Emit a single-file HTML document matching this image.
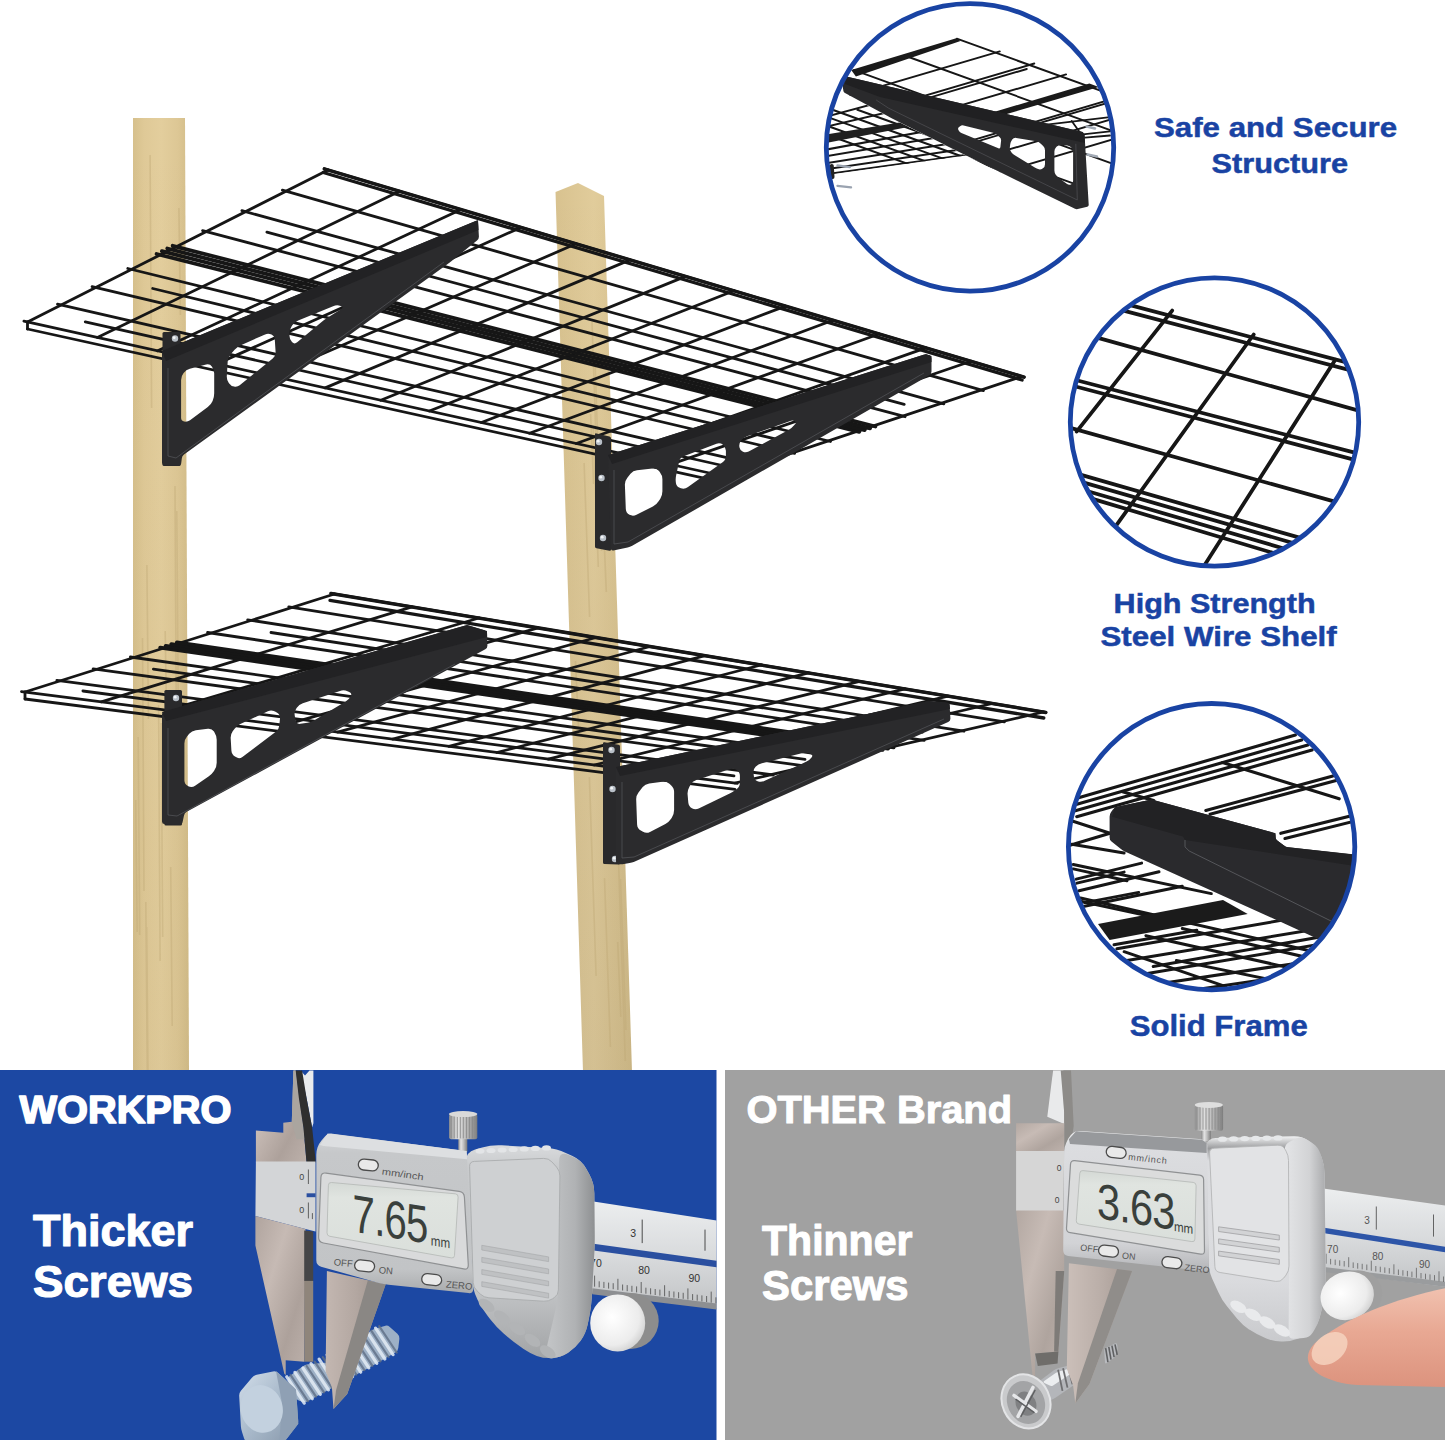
<!DOCTYPE html><html><head><meta charset="utf-8"><title>Shelf</title><style>html,body{margin:0;padding:0;background:#fff}svg{display:block}text{font-family:"Liberation Sans",sans-serif}</style></head><body><svg width="1445" height="1440" viewBox="0 0 1445 1440">
<defs>
<linearGradient id="wood1" x1="0" x2="1" y1="0" y2="0">
<stop offset="0" stop-color="#d6c08c"/><stop offset="0.2" stop-color="#dfc997"/><stop offset="0.5" stop-color="#e3ce9d"/><stop offset="0.8" stop-color="#ddc795"/><stop offset="1" stop-color="#d3bd89"/>
</linearGradient>
<linearGradient id="wood2" x1="0" x2="1" y1="0" y2="0">
<stop offset="0" stop-color="#d8c28f"/><stop offset="0.5" stop-color="#e1cc9b"/><stop offset="1" stop-color="#d5bf8b"/>
</linearGradient>
<linearGradient id="shade1" x1="0" x2="0" y1="0" y2="1">
<stop offset="0" stop-color="#6b5a30" stop-opacity="0"/><stop offset="1" stop-color="#6b5a30" stop-opacity="0.05"/>
</linearGradient>
<linearGradient id="shade2" x1="0" x2="0" y1="0" y2="1">
<stop offset="0" stop-color="#4c4438" stop-opacity="0"/><stop offset="1" stop-color="#4c4438" stop-opacity="0.09"/>
</linearGradient>
<clipPath id="c1"><circle cx="970" cy="147.4" r="143.7"/></clipPath><clipPath id="c1low"><path d="M810.0 84.9 L843.7 92.6 L889.8 117.5 L944.6 145.0 L1000.0 172.4 L969.5 154.9 L833.7 174.0 L810.0 177.1 Z"/></clipPath><clipPath id="c1up"><path d="M821.3 66.7 L843.7 92.4 L1076.3 209.4 L1090.0 206.3 L1157.6 139.6 L1157.6 -17.4 L821.3 -17.4 Z"/></clipPath><clipPath id="c2"><circle cx="1214.5" cy="422" r="144.2"/></clipPath><clipPath id="c3"><circle cx="1211.6" cy="846.7" r="143.2"/></clipPath>
<linearGradient id="steelH" x1="0" x2="1" y1="0" y2="1"><stop offset="0" stop-color="#b0a49e"/><stop offset="0.35" stop-color="#c6bab4"/><stop offset="0.7" stop-color="#ada19b"/><stop offset="1" stop-color="#bdb1ab"/></linearGradient>
<linearGradient id="steelH2" x1="0" x2="1" y1="0" y2="0"><stop offset="0" stop-color="#c3b7b1"/><stop offset="0.5" stop-color="#b3a7a1"/><stop offset="1" stop-color="#9d918b"/></linearGradient>
<linearGradient id="bodyV" x1="0" x2="0" y1="0" y2="1"><stop offset="0" stop-color="#d6d8da"/><stop offset="0.12" stop-color="#c6c8ca"/><stop offset="0.85" stop-color="#c2c4c6"/><stop offset="1" stop-color="#a9abad"/></linearGradient>
<linearGradient id="gripV" x1="0" x2="0" y1="0" y2="1"><stop offset="0" stop-color="#d9dbdd"/><stop offset="0.1" stop-color="#c9cbcd"/><stop offset="0.7" stop-color="#c0c2c4"/><stop offset="1" stop-color="#a2a4a6"/></linearGradient>
<linearGradient id="gripSide" x1="0" x2="1" y1="0" y2="0"><stop offset="0" stop-color="#c4c6c8"/><stop offset="0.6" stop-color="#b0b2b4"/><stop offset="1" stop-color="#8e9092"/></linearGradient>
<linearGradient id="beamV" x1="0" x2="0" y1="0" y2="1"><stop offset="0" stop-color="#eceeef"/><stop offset="0.5" stop-color="#d9dbdd"/><stop offset="1" stop-color="#c2c4c6"/></linearGradient>
<linearGradient id="knobH" x1="0" x2="1" y1="0" y2="0"><stop offset="0" stop-color="#8f8f8f"/><stop offset="0.3" stop-color="#e4e4e4"/><stop offset="0.6" stop-color="#bdbdbd"/><stop offset="1" stop-color="#7d7d7d"/></linearGradient>
<radialGradient id="wheel" cx="0.4" cy="0.4" r="0.7"><stop offset="0" stop-color="#ffffff"/><stop offset="0.7" stop-color="#ececec"/><stop offset="1" stop-color="#c9c9c9"/></radialGradient>
<linearGradient id="lcd" x1="0" x2="0" y1="0" y2="1"><stop offset="0" stop-color="#d4d9d5"/><stop offset="0.2" stop-color="#e0e4e0"/><stop offset="1" stop-color="#dadfdb"/></linearGradient>
<linearGradient id="boltH" x1="0" x2="1" y1="0" y2="1"><stop offset="0" stop-color="#d3deea"/><stop offset="0.5" stop-color="#a9bacb"/><stop offset="1" stop-color="#8797aa"/></linearGradient>
<linearGradient id="bodyV2" x1="0" x2="0" y1="0" y2="1"><stop offset="0" stop-color="#eeeff0"/><stop offset="0.1" stop-color="#dcdde0"/><stop offset="0.8" stop-color="#d2d3d6"/><stop offset="1" stop-color="#b4b5b8"/></linearGradient>
<linearGradient id="gripV2" x1="0" x2="0" y1="0" y2="1"><stop offset="0" stop-color="#f2f3f4"/><stop offset="0.06" stop-color="#9a9b9d"/><stop offset="0.12" stop-color="#dcdde0"/><stop offset="0.7" stop-color="#dadbde"/><stop offset="1" stop-color="#c9cacd"/></linearGradient>
<linearGradient id="gripSide2" x1="0" x2="1" y1="0" y2="0"><stop offset="0" stop-color="#e4e5e7"/><stop offset="0.6" stop-color="#d2d3d5"/><stop offset="1" stop-color="#a9aaac"/></linearGradient>
<linearGradient id="steelR" x1="0" x2="1" y1="0" y2="1"><stop offset="0" stop-color="#b3a8a2"/><stop offset="0.35" stop-color="#c7bbb5"/><stop offset="0.7" stop-color="#afa49e"/><stop offset="1" stop-color="#beb2ac"/></linearGradient>
<linearGradient id="steelR2" x1="0" x2="1" y1="0" y2="0"><stop offset="0" stop-color="#cbbfb9"/><stop offset="0.5" stop-color="#bbafa9"/><stop offset="1" stop-color="#a59993"/></linearGradient>
<linearGradient id="skin" x1="0" x2="0" y1="0" y2="1"><stop offset="0" stop-color="#f1c2b0"/><stop offset="0.45" stop-color="#e8a893"/><stop offset="1" stop-color="#dc937e"/></linearGradient>
</defs>
<rect width="1445" height="1440" fill="#fff"/>
<polygon points="133.0,118.0 185.0,118.0 189.0,1072.0 133.0,1072.0" fill="url(#wood1)"/>
<polygon points="133.0,118.0 185.0,118.0 189.0,1072.0 133.0,1072.0" fill="url(#shade1)"/>
<polygon points="555.5,192.0 578.0,183.0 604.0,196.0 632.0,1072.0 583.0,1072.0" fill="url(#wood2)"/>
<polygon points="555.5,192.0 578.0,183.0 604.0,196.0 632.0,1072.0 583.0,1072.0" fill="url(#shade2)"/>
<g stroke="#bfa875" stroke-width="1.6" opacity="0.4"><line x1="146.9" y1="565" x2="148.4" y2="719"/><line x1="165.2" y1="631" x2="166.7" y2="724"/><line x1="135.7" y1="800" x2="137.2" y2="932"/><line x1="146.7" y1="927" x2="148.2" y2="1101"/><line x1="176.8" y1="511" x2="178.3" y2="719"/><line x1="142.5" y1="638" x2="144.0" y2="891"/><line x1="161.2" y1="723" x2="162.7" y2="937"/><line x1="138.2" y1="737" x2="139.7" y2="935"/><line x1="150.1" y1="155" x2="151.6" y2="408"/><line x1="158.6" y1="705" x2="160.1" y2="961"/><line x1="170.7" y1="867" x2="172.2" y2="1026"/><line x1="175.0" y1="486" x2="176.5" y2="753"/><line x1="178.9" y1="208" x2="180.4" y2="315"/><line x1="145.8" y1="902" x2="147.3" y2="1070"/><line x1="593.2" y1="426" x2="598.3" y2="567"/><line x1="584.1" y1="463" x2="589.6" y2="617"/><line x1="604.5" y1="878" x2="610.4" y2="1047"/><line x1="617.9" y1="842" x2="625.3" y2="1061"/><line x1="592.0" y1="322" x2="598.8" y2="520"/><line x1="620.5" y1="879" x2="625.9" y2="1030"/><line x1="594.9" y1="358" x2="601.5" y2="551"/><line x1="590.6" y1="414" x2="593.6" y2="484"/><line x1="617.7" y1="942" x2="620.8" y2="1017"/><line x1="602.8" y1="508" x2="606.3" y2="592"/><line x1="589.4" y1="777" x2="596.1" y2="976"/><line x1="575.5" y1="661" x2="578.5" y2="728"/></g>
<g stroke="#161616" stroke-width="2.8" stroke-linecap="round" fill="none"><line x1="27.5" y1="322.0" x2="328.0" y2="170.0"/><line x1="97.4" y1="337.5" x2="399.6" y2="191.3"/><line x1="157.7" y1="350.8" x2="461.0" y2="209.6"/><line x1="216.9" y1="363.9" x2="521.0" y2="227.4"/><line x1="271.4" y1="376.0" x2="576.0" y2="243.8"/><line x1="325.2" y1="387.9" x2="630.0" y2="259.9"/><line x1="380.8" y1="400.2" x2="685.6" y2="276.4"/><line x1="429.4" y1="411.0" x2="734.0" y2="290.8"/><line x1="481.4" y1="422.5" x2="785.5" y2="306.1"/><line x1="529.5" y1="433.2" x2="833.0" y2="320.3"/><line x1="576.3" y1="443.5" x2="879.0" y2="334.0"/><line x1="624.3" y1="454.2" x2="926.0" y2="347.9"/><line x1="670.5" y1="464.4" x2="971.0" y2="361.3"/><line x1="723.0" y1="476.0" x2="1022.0" y2="376.5"/><line x1="23.9" y1="321.2" x2="725.2" y2="476.5"/><line x1="85.3" y1="321.8" x2="722.4" y2="465.5"/><line x1="57.5" y1="304.2" x2="759.5" y2="465.1"/><line x1="92.1" y1="286.6" x2="794.6" y2="453.4"/><line x1="152.7" y1="288.5" x2="790.5" y2="442.6"/><line x1="127.8" y1="268.5" x2="830.5" y2="441.5"/><line x1="156.6" y1="254.0" x2="859.3" y2="431.9" stroke-width="3.8"/><line x1="161.9" y1="251.2" x2="864.7" y2="430.1" stroke-width="3.8"/><line x1="167.3" y1="248.5" x2="870.1" y2="428.3" stroke-width="3.8"/><line x1="172.7" y1="245.8" x2="875.4" y2="426.5" stroke-width="3.8"/><line x1="202.6" y1="230.6" x2="905.1" y2="416.7"/><line x1="241.9" y1="210.7" x2="943.8" y2="403.8"/><line x1="266.9" y1="232.2" x2="904.2" y2="404.4"/><line x1="282.4" y1="190.2" x2="983.4" y2="390.6"/><line x1="324.3" y1="168.9" x2="1024.1" y2="377.1"/><line x1="323.3" y1="172.5" x2="1022.1" y2="380.0" stroke-width="3.3"/><line x1="324.3" y1="168.9" x2="1024.1" y2="377.1" stroke-width="3.5"/><line x1="27.5" y1="329.0" x2="723.0" y2="482.3"/><line x1="27.5" y1="322.0" x2="27.5" y2="329.0"/></g>
<path d="M162.5 333.5 Q162.5 332.0 164.0 332.0 L179.0 332.0 Q180.5 332.0 180.5 333.5 L180.5 464.5 Q180.5 466.0 179.0 466.0 L164.0 466.0 Q162.5 466.0 162.5 464.5 Z" fill="#29292b"/><circle cx="175" cy="338.5" r="3.2" fill="#b9c0c8"/><circle cx="174.2" cy="337.7" r="1.4" fill="#f2f4f6"/><circle cx="176.5" cy="459.5" r="3.2" fill="#b9c0c8"/><circle cx="175.7" cy="458.7" r="1.4" fill="#f2f4f6"/><path d="M162.0 353.5 Q162.0 351.0 164.3 350.0 L475.7 221.0 Q478.0 220.0 478.1 222.5 L478.9 236.5 Q479.0 239.0 477.0 240.6 L451.0 261.4 Q449.0 263.0 447.0 264.5 L184.0 454.5 Q182.0 456.0 181.8 458.5 L181.2 463.5 Q181.0 466.0 178.5 465.9 L164.5 465.1 Q162.0 465.0 162.0 462.5 Z M181.1 380.0 Q181.1 376.0 183.6 372.9 L183.6 372.9 Q186.0 369.8 189.8 368.8 L206.1 364.6 Q209.8 363.6 212.0 366.7 L212.0 366.7 Q214.2 369.8 214.2 373.6 L214.2 393.2 Q214.2 397.2 212.6 400.9 L212.6 401.0 Q211.0 404.7 207.8 407.1 L190.0 420.2 Q187.4 422.1 184.2 421.5 L184.2 421.5 Q181.1 420.9 181.1 417.7 Z M227.7 361.4 Q227.9 357.4 230.5 354.4 L234.6 349.8 Q237.2 346.8 240.9 345.2 L265.1 334.4 Q268.3 333.0 271.5 334.6 L271.5 334.6 Q274.6 336.2 274.8 339.7 L275.6 352.0 Q275.8 356.0 272.7 358.5 L239.7 385.3 Q237.2 387.3 234.1 386.6 L234.1 386.6 Q231.0 386.0 229.2 383.4 L228.8 382.9 Q226.6 379.8 226.8 376.0 Z M289.5 333.6 Q289.5 329.6 291.7 326.3 L292.3 325.3 Q294.5 322.0 298.2 320.5 L333.1 306.2 Q336.8 304.7 340.6 305.9 L340.6 305.9 Q344.3 307.2 341.0 309.3 L327.8 317.6 Q324.4 319.7 321.3 322.3 L297.2 342.3 Q294.5 344.6 292.0 342.1 L292.0 342.1 Q289.5 339.6 289.5 336.1 Z" fill="#2b2b2d" fill-rule="evenodd"/><path d="M162.0 351.0 L478.0 220.0 L478.5 230.0 L166.0 361.0 Z" fill="#222224"/><path d="M168.0 368.0 L168.0 456.0 L176.0 458.0 L444.0 262.0" fill="none" stroke="#55565a" stroke-width="0.9" opacity="0.8"/>
<path d="M595.0 434.5 Q595.0 433.0 596.5 433.4 L609.5 436.6 Q611.0 437.0 611.0 438.5 L611.0 549.5 Q611.0 551.0 609.5 550.7 L596.5 548.3 Q595.0 548.0 595.0 546.5 Z" fill="#29292b"/><circle cx="599" cy="442" r="3.2" fill="#b9c0c8"/><circle cx="598.2" cy="441.2" r="1.4" fill="#f2f4f6"/><circle cx="601.5" cy="478" r="3.2" fill="#b9c0c8"/><circle cx="600.7" cy="477.2" r="1.4" fill="#f2f4f6"/><circle cx="603" cy="538" r="3.2" fill="#b9c0c8"/><circle cx="602.2" cy="537.2" r="1.4" fill="#f2f4f6"/><path d="M608.1 457.5 Q608.0 455.0 610.4 454.2 L923.6 354.8 Q926.0 354.0 928.3 354.9 L929.2 355.1 Q931.5 356.0 931.5 358.5 L931.5 371.5 Q931.5 374.0 929.3 375.2 L632.2 545.8 Q630.0 547.0 627.6 547.5 L613.4 550.5 Q611.0 551.0 610.9 548.5 Z M624.9 485.0 Q624.7 481.0 627.2 477.9 L630.5 473.7 Q633.0 470.6 637.0 470.2 L652.5 468.4 Q656.5 468.0 659.0 471.1 L659.9 472.2 Q662.4 475.3 662.4 479.3 L662.4 491.3 Q662.4 495.3 660.3 498.7 L658.6 501.3 Q656.5 504.7 652.9 506.5 L636.5 514.7 Q633.0 516.5 629.5 514.8 L629.5 514.8 Q626.0 513.0 625.8 509.1 Z M675.9 482.8 Q675.3 478.8 676.2 474.9 L679.1 461.5 Q680.0 457.6 683.7 456.2 L716.5 443.7 Q720.0 442.4 723.0 444.7 L723.0 444.7 Q725.9 447.0 725.9 450.7 L725.9 456.0 Q725.9 460.0 722.6 462.3 L688.0 487.1 Q684.7 489.4 680.9 488.3 L680.3 488.1 Q676.5 487.0 675.9 483.0 Z M739.4 447.1 Q738.8 443.5 741.0 440.7 L741.1 440.6 Q743.5 437.6 747.1 436.3 L791.0 420.7 Q793.0 420.0 794.8 421.2 L794.8 421.2 Q796.5 422.4 795.2 424.0 L794.1 425.3 Q791.8 428.2 788.5 430.0 L748.7 451.5 Q745.9 453.0 743.0 451.8 L743.0 451.8 Q740.0 450.6 739.5 447.5 Z" fill="#2b2b2d" fill-rule="evenodd"/><path d="M608.0 455.0 L926.0 354.0 L931.5 356.0 L931.5 362.0 L612.0 464.0 Z" fill="#222224"/><path d="M614.0 470.0 L614.0 544.0 L628.0 542.0 L924.0 373.0" fill="none" stroke="#55565a" stroke-width="0.9" opacity="0.8"/>
<g stroke="#161616" stroke-width="2.8" stroke-linecap="round" fill="none"><line x1="25.0" y1="692.0" x2="334.5" y2="594.0"/><line x1="101.3" y1="701.8" x2="412.0" y2="606.9"/><line x1="167.5" y1="710.3" x2="479.0" y2="618.0"/><line x1="226.0" y1="717.8" x2="538.0" y2="627.9"/><line x1="283.7" y1="725.2" x2="596.0" y2="637.5"/><line x1="337.6" y1="732.1" x2="650.0" y2="646.5"/><line x1="392.7" y1="739.1" x2="705.0" y2="655.7"/><line x1="448.9" y1="746.3" x2="761.0" y2="665.0"/><line x1="496.8" y1="752.5" x2="808.6" y2="672.9"/><line x1="548.2" y1="759.1" x2="859.6" y2="681.4"/><line x1="594.2" y1="765.0" x2="905.0" y2="688.9"/><line x1="637.8" y1="770.5" x2="948.0" y2="696.1"/><line x1="682.9" y1="776.3" x2="992.4" y2="703.5"/><line x1="735.0" y1="783.0" x2="1043.5" y2="712.0"/><line x1="21.5" y1="691.6" x2="737.3" y2="783.3"/><line x1="82.9" y1="691.0" x2="734.0" y2="775.9"/><line x1="56.9" y1="680.3" x2="773.2" y2="775.0"/><line x1="93.2" y1="668.8" x2="809.8" y2="766.6"/><line x1="153.4" y1="669.1" x2="805.0" y2="759.4"/><line x1="130.4" y1="657.0" x2="847.2" y2="758.0"/><line x1="160.2" y1="647.6" x2="877.0" y2="751.2" stroke-width="3.8"/><line x1="165.7" y1="645.8" x2="882.5" y2="749.9" stroke-width="3.8"/><line x1="171.3" y1="644.1" x2="888.1" y2="748.6" stroke-width="3.8"/><line x1="176.9" y1="642.3" x2="893.6" y2="747.4" stroke-width="3.8"/><line x1="207.6" y1="632.5" x2="924.2" y2="740.3"/><line x1="247.7" y1="619.8" x2="963.9" y2="731.2"/><line x1="271.0" y1="632.5" x2="922.2" y2="732.2"/><line x1="288.8" y1="606.8" x2="1004.4" y2="721.9"/><line x1="331.0" y1="593.4" x2="1045.8" y2="712.4"/><line x1="330.0" y1="600.4" x2="1043.8" y2="718.0" stroke-width="3.3"/><line x1="331.0" y1="593.4" x2="1045.8" y2="712.4" stroke-width="3.5"/><line x1="25.0" y1="699.0" x2="735.0" y2="789.3"/><line x1="25.0" y1="692.0" x2="25.0" y2="699.0"/></g>
<path d="M164.4 691.5 Q164.4 690.0 165.9 690.0 L180.5 690.0 Q182.0 690.0 182.0 691.5 L182.0 824.0 Q182.0 825.5 180.5 825.5 L165.9 825.5 Q164.4 825.5 164.4 824.0 Z" fill="#29292b"/><circle cx="176" cy="698" r="3.2" fill="#b9c0c8"/><circle cx="175.2" cy="697.2" r="1.4" fill="#f2f4f6"/><circle cx="177" cy="820" r="3.2" fill="#b9c0c8"/><circle cx="176.2" cy="819.2" r="1.4" fill="#f2f4f6"/><path d="M162.0 714.5 Q162.0 712.0 164.4 711.3 L464.6 625.7 Q467.0 625.0 469.4 625.7 L484.6 630.3 Q487.0 631.0 487.1 633.5 L487.4 645.5 Q487.5 648.0 485.3 649.2 L186.7 811.8 Q184.5 813.0 184.0 815.4 L182.5 822.6 Q182.0 825.0 179.5 824.9 L164.5 824.1 Q162.0 824.0 162.0 821.5 Z M184.4 743.4 Q184.4 739.4 187.0 736.4 L189.2 733.7 Q191.8 730.7 195.8 730.2 L207.8 728.7 Q211.8 728.2 214.0 731.5 L214.5 732.4 Q216.7 735.7 216.7 739.7 L216.7 762.8 Q216.7 766.8 214.5 770.1 L214.0 771.0 Q211.8 774.3 208.5 776.6 L195.1 785.7 Q191.8 788.0 188.2 786.2 L188.0 786.0 Q184.4 784.2 184.4 780.2 Z M230.7 738.4 Q230.4 734.4 232.7 731.2 L234.4 728.9 Q236.7 725.7 240.3 724.0 L267.9 711.2 Q271.5 709.5 275.0 711.5 L276.8 712.5 Q280.3 714.5 280.0 718.5 L279.3 725.4 Q279.0 729.4 275.8 731.8 L242.4 756.9 Q239.2 759.3 235.9 757.1 L235.0 756.6 Q231.7 754.4 231.4 750.4 Z M294.8 715.9 Q294.0 712.0 296.2 708.7 L296.8 707.8 Q299.0 704.5 302.8 703.2 L340.0 690.9 Q343.8 689.6 347.5 691.2 L349.2 691.9 Q352.5 693.3 350.6 696.4 L350.7 696.4 Q348.8 699.5 345.7 701.4 L314.8 719.9 Q311.4 722.0 307.5 722.7 L300.4 723.8 Q296.5 724.5 295.7 720.6 Z" fill="#2b2b2d" fill-rule="evenodd"/><path d="M162.0 712.0 L467.0 625.0 L487.0 631.0 L487.0 637.0 L166.0 721.0 Z" fill="#222224"/><path d="M168.0 728.0 L168.0 815.0 L177.0 816.0 L455.0 664.0" fill="none" stroke="#55565a" stroke-width="0.9" opacity="0.8"/>
<path d="M603.0 743.5 Q603.0 742.0 604.5 742.3 L618.5 744.7 Q620.0 745.0 620.0 746.5 L620.0 863.0 Q620.0 864.5 618.5 864.5 L604.5 864.0 Q603.0 864.0 603.0 862.5 Z" fill="#29292b"/><circle cx="611.5" cy="750" r="3.2" fill="#b9c0c8"/><circle cx="610.7" cy="749.2" r="1.4" fill="#f2f4f6"/><circle cx="612.5" cy="789" r="3.2" fill="#b9c0c8"/><circle cx="611.7" cy="788.2" r="1.4" fill="#f2f4f6"/><circle cx="615" cy="859" r="3.2" fill="#b9c0c8"/><circle cx="614.2" cy="858.2" r="1.4" fill="#f2f4f6"/><path d="M616.0 769.5 Q616.0 767.0 618.4 766.5 L926.6 701.5 Q929.0 701.0 931.5 701.2 L947.0 702.8 Q949.5 703.0 949.6 705.5 L950.4 718.5 Q950.5 721.0 948.2 722.0 L634.3 861.7 Q632.0 862.7 629.5 863.1 L624.0 864.1 Q621.5 864.5 619.0 864.3 L618.5 864.2 Q616.0 864.0 616.0 861.5 Z M636.2 799.7 Q636.0 795.7 638.5 792.5 L642.7 787.1 Q645.2 783.9 649.2 783.4 L662.3 781.7 Q666.3 781.2 669.4 783.8 L671.0 785.2 Q674.1 787.8 674.1 791.8 L674.1 810.1 Q674.1 814.1 671.9 817.4 L671.1 818.7 Q668.9 822.0 665.4 823.9 L650.0 831.9 Q646.5 833.8 643.0 831.8 L640.8 830.6 Q637.3 828.6 637.1 824.6 Z M687.6 794.4 Q687.3 790.4 689.3 786.9 L690.5 784.7 Q692.5 781.2 696.3 780.0 L729.7 769.3 Q733.3 768.1 736.6 770.0 L736.6 770.0 Q739.9 772.0 739.9 775.8 L739.9 782.5 Q739.9 786.5 736.8 789.0 L736.4 789.3 Q733.3 791.8 729.7 793.5 L698.7 808.5 Q695.2 810.2 691.9 808.2 L691.9 808.2 Q688.6 806.2 688.3 802.4 Z M753.5 773.1 Q753.0 769.4 755.6 766.8 L755.6 766.8 Q758.3 764.1 761.9 763.2 L801.7 753.3 Q805.6 752.3 809.4 753.6 L810.4 753.9 Q813.5 755.0 811.6 757.6 L811.5 757.6 Q809.6 760.2 806.6 761.6 L764.2 781.0 Q761.0 782.5 757.6 781.2 L757.6 781.2 Q754.3 780.0 753.9 776.5 Z" fill="#2b2b2d" fill-rule="evenodd"/><path d="M616.0 767.0 L929.0 701.0 L949.5 703.0 L950.0 709.0 L620.0 776.0 Z" fill="#222224"/><path d="M622.0 782.0 L622.0 858.0 L634.0 857.0 L944.0 719.0" fill="none" stroke="#55565a" stroke-width="0.9" opacity="0.8"/>
<g clip-path="url(#c1)"><g clip-path="url(#c1low)"><g stroke="#161616" stroke-width="2.0" stroke-linecap="round" fill="none"><line x1="825.0" y1="117.1" x2="994.4" y2="71.3"/><line x1="825.0" y1="126.9" x2="994.4" y2="87.1"/><line x1="825.0" y1="149.8" x2="994.4" y2="118.4"/><line x1="825.0" y1="156.5" x2="994.4" y2="127.8"/><line x1="825.0" y1="163.4" x2="994.4" y2="136.6"/><line x1="825.0" y1="169.5" x2="994.4" y2="144.6"/><line x1="825.0" y1="174.5" x2="994.4" y2="151.1"/><line x1="757.7" y1="109.8" x2="932.1" y2="172.6"/><line x1="782.6" y1="109.8" x2="957.0" y2="172.6"/><line x1="807.5" y1="109.8" x2="981.9" y2="172.6"/><line x1="832.5" y1="109.8" x2="1006.8" y2="172.6"/><line x1="857.4" y1="109.8" x2="1031.8" y2="172.6"/><line x1="882.3" y1="109.8" x2="1056.7" y2="172.6"/><line x1="907.2" y1="109.8" x2="1081.6" y2="172.6"/><line x1="932.1" y1="109.8" x2="1106.5" y2="172.6"/></g><path d="M825.0 134.7 L914.7 120.0 L919.7 124.8 L825.0 143.2 Z" fill="#1f1f1f"/></g><g stroke="#9aa3b0" stroke-width="2.2" stroke-linecap="round" fill="none"><line x1="837.4" y1="165.3" x2="849.9" y2="167.1"/><line x1="837.4" y1="185.8" x2="851.1" y2="187.3"/></g><g stroke="#222" stroke-width="4" stroke-linecap="round" fill="none"><line x1="831.8" y1="165.9" x2="832.5" y2="177.1"/></g><g clip-path="url(#c1up)"><g stroke="#161616" stroke-width="1.9" stroke-linecap="round" fill="none"><line x1="999.8" y1="51.4" x2="733.5" y2="129.9"/><line x1="1034.3" y1="63.5" x2="768.1" y2="142.0"/><line x1="1066.1" y1="74.4" x2="799.8" y2="152.8"/><line x1="1124.9" y1="95.3" x2="858.7" y2="173.8"/><line x1="1154.8" y1="106.5" x2="888.6" y2="185.0"/><line x1="1186.6" y1="117.7" x2="920.3" y2="196.2"/><line x1="1026.8" y1="69.0" x2="802.6" y2="135.1"/><line x1="1116.5" y1="100.3" x2="892.3" y2="166.5"/><line x1="956.8" y1="38.7" x2="1237.0" y2="140.1"/><line x1="904.5" y1="55.5" x2="1184.7" y2="157.0"/><line x1="854.0" y1="70.1" x2="1134.3" y2="171.5"/><line x1="802.6" y1="85.4" x2="1082.9" y2="186.9"/></g><path d="M1089.4 83.5 L1098.8 86.9 L970.8 124.6 L961.4 121.8 Z" fill="#1a1a1a"/><path d="M956.2 38.3 L960.5 40.9 L855.9 76.4 L851.2 70.1 Z" fill="#1a1a1a"/></g><g stroke="#161616" stroke-width="1.8" stroke-linecap="round" fill="none"><line x1="1038.1" y1="125.6" x2="1110.0" y2="117.2"/><line x1="1082.9" y1="134.3" x2="1110.0" y2="131.4"/><line x1="1084.8" y1="137.7" x2="1110.0" y2="135.5"/><line x1="1071.7" y1="120.9" x2="1081.0" y2="134.0"/></g><g stroke="#a3abb6" stroke-width="2.6" stroke-linecap="round" fill="none"><line x1="1086.6" y1="126.5" x2="1095.0" y2="128.4"/><line x1="1087.6" y1="154.5" x2="1096.9" y2="156.4"/></g><path d="M845.0 93.1 Q843.7 92.4 843.4 90.9 L842.9 87.5 Q842.6 86.0 842.7 84.5 L842.9 81.0 Q843.0 79.5 844.1 78.4 L844.9 77.6 Q846.0 76.5 847.5 76.8 L1081.4 131.7 Q1082.9 132.0 1083.6 133.3 L1083.9 134.1 Q1084.6 135.4 1084.7 136.9 L1088.7 204.8 Q1088.8 206.3 1087.3 206.7 L1077.8 209.0 Q1076.3 209.4 1075.0 208.7 L1001.3 172.8 Q1000.0 172.1 998.7 171.4 L945.9 145.4 Q944.6 144.7 943.3 144.0 L891.1 118.0 Q889.8 117.3 888.5 116.6 Z M1054.4 151.5 Q1054.4 149.0 1056.1 147.2 L1056.8 146.6 Q1058.5 144.8 1061.0 145.0 L1067.5 145.6 Q1070.0 145.8 1071.5 147.8 L1071.6 148.0 Q1073.1 150.0 1073.1 152.5 L1073.1 181.0 Q1073.1 183.3 1071.0 184.4 L1071.0 184.4 Q1069.0 185.4 1067.1 184.0 L1059.5 178.6 Q1057.5 177.1 1056.0 175.1 L1055.9 174.9 Q1054.4 172.9 1054.4 170.4 Z M1010.3 144.1 Q1010.6 141.7 1012.1 139.7 L1012.2 139.5 Q1013.8 137.5 1016.2 137.9 L1036.3 141.3 Q1038.8 141.7 1040.5 143.4 L1043.2 146.1 Q1045.0 147.9 1045.0 150.4 L1045.0 164.2 Q1045.0 166.7 1043.0 168.2 L1042.6 168.5 Q1040.8 169.8 1038.8 169.3 L1038.8 169.3 Q1036.7 168.8 1034.8 167.6 L1013.6 154.4 Q1011.7 153.1 1010.6 151.0 L1010.6 151.0 Q1009.6 149.0 1009.9 146.7 Z M958.4 129.9 Q957.5 128.1 959.1 126.9 L960.1 126.2 Q961.7 125.0 963.6 125.5 L993.1 132.8 Q995.0 133.3 996.5 134.6 L999.7 137.3 Q1001.2 138.5 1001.1 140.5 L1000.4 147.0 Q1000.2 149.0 998.4 148.2 L961.4 133.1 Q959.6 132.3 958.7 130.5 Z" fill="#2a2a2c" fill-rule="evenodd"/><path d="M846.0 76.5 L1082.9 132.0 L1084.6 135.4 L1085.0 143.0 L880.0 97.0 L845.0 84.0 Z" fill="#202022"/><path d="M876.2 100.0 L888.8 108.3 L1077.3 200.0 L1075.8 143.8" fill="none" stroke="#4c4d50" stroke-width="0.8"/></g><circle cx="970" cy="147.4" r="143.7" fill="none" stroke="#1943a3" stroke-width="4.8"/>
<g clip-path="url(#c2)"><g stroke="#161616" stroke-width="3.8" stroke-linecap="round" fill="none"><line x1="1172.2" y1="310.6" x2="1076.6" y2="431.6"/><line x1="1253.7" y1="334.5" x2="1115.9" y2="525.8"/><line x1="1335.3" y1="359.8" x2="1204.5" y2="565.2"/><line x1="1416.9" y1="383.7" x2="1293.1" y2="577.8"/><line x1="1093.4" y1="285.3" x2="1040.0" y2="352.8"/></g><g stroke="#161616" stroke-width="3.8" stroke-linecap="round" fill="none"><line x1="1124.4" y1="303.6" x2="1355.0" y2="364.6"/><line x1="1121.6" y1="310.1" x2="1353.6" y2="371.1"/><line x1="1096.2" y1="337.3" x2="1363.4" y2="411.9"/><line x1="1073.7" y1="379.5" x2="1366.2" y2="455.7"/><line x1="1073.7" y1="386.0" x2="1364.8" y2="462.5"/><line x1="1068.1" y1="427.3" x2="1343.7" y2="504.1"/><line x1="1079.4" y1="474.3" x2="1310.0" y2="540.7"/><line x1="1082.2" y1="482.2" x2="1304.4" y2="546.3"/><line x1="1087.8" y1="491.2" x2="1297.3" y2="552.5"/><line x1="1093.4" y1="499.1" x2="1290.3" y2="558.1"/></g></g><circle cx="1214.5" cy="422" r="144.2" fill="none" stroke="#1943a3" stroke-width="4.8"/>
<g clip-path="url(#c3)"><g stroke="#161616" stroke-width="3.0" stroke-linecap="round" fill="none"><line x1="1076.2" y1="879.1" x2="1141.6" y2="863.1"/><line x1="1076.9" y1="883.1" x2="1124.1" y2="872.1"/><line x1="1079.1" y1="890.7" x2="1159.0" y2="871.8"/><line x1="1082.0" y1="906.7" x2="1182.3" y2="886.3"/><line x1="1084.9" y1="902.6" x2="1138.7" y2="892.4"/><line x1="1116.9" y1="948.8" x2="1371.2" y2="904.7"/><line x1="1114.0" y1="944.8" x2="1196.8" y2="930.2"/><line x1="1127.0" y1="960.4" x2="1371.2" y2="920.0"/><line x1="1147.4" y1="973.5" x2="1371.2" y2="935.6"/><line x1="1153.2" y1="966.6" x2="1371.2" y2="927.9"/><line x1="1167.7" y1="982.5" x2="1371.2" y2="952.0"/><line x1="1196.8" y1="989.5" x2="1371.2" y2="963.9"/><line x1="1073.3" y1="864.5" x2="1211.3" y2="893.6"/><line x1="1073.3" y1="868.9" x2="1127.0" y2="880.8"/><line x1="1080.5" y1="898.0" x2="1371.2" y2="964.9"/><line x1="1080.5" y1="901.2" x2="1167.7" y2="920.0"/><line x1="1124.1" y1="951.7" x2="1225.9" y2="986.6"/><line x1="1145.9" y1="935.7" x2="1371.2" y2="986.1"/><line x1="1182.3" y1="928.5" x2="1371.2" y2="972.4"/><line x1="1176.4" y1="960.4" x2="1371.2" y2="1000.2"/><line x1="1071.8" y1="844.2" x2="1124.1" y2="852.9"/></g><path d="M1098.0 924.1 L1223.0 900.1 L1247.7 913.9 L1109.6 940.1 Z" fill="#1b1b1b"/><g stroke="#161616" stroke-width="3.0" stroke-linecap="round" fill="none"><line x1="1068.3" y1="845.8" x2="1110.0" y2="833.3"/><line x1="1068.3" y1="819.8" x2="1110.0" y2="833.3"/></g><g stroke="#161616" stroke-width="3.1" stroke-linecap="round" fill="none"><line x1="1072.5" y1="799.6" x2="1295.4" y2="735.0"/><line x1="1072.5" y1="805.4" x2="1301.7" y2="740.0"/><line x1="1073.5" y1="811.2" x2="1307.9" y2="745.0"/><line x1="1076.7" y1="816.7" x2="1312.1" y2="750.0"/><line x1="1205.8" y1="810.4" x2="1332.9" y2="776.0"/><line x1="1210.0" y1="814.2" x2="1337.1" y2="780.2"/><line x1="1280.8" y1="833.3" x2="1355.8" y2="814.6"/><line x1="1285.0" y1="838.5" x2="1355.8" y2="820.8"/><line x1="1222.5" y1="762.5" x2="1339.2" y2="798.8"/><line x1="1122.5" y1="791.7" x2="1153.8" y2="800.4"/></g><path d="M1109.6 816.7 Q1109.6 814.2 1111.1 812.1 L1113.1 809.3 Q1114.6 807.3 1117.0 806.8 L1149.2 800.1 Q1151.7 799.6 1154.1 800.2 L1273.2 832.7 Q1275.6 833.3 1275.6 835.8 L1275.6 836.7 Q1275.6 839.2 1277.6 840.7 L1284.0 845.4 Q1286.0 846.9 1288.5 847.2 L1357.5 854.9 Q1360.0 855.2 1360.0 857.7 L1360.0 955.8 Q1360.0 958.3 1357.7 957.3 L1278.3 920.8 Q1276.0 919.8 1273.8 918.8 L1124.8 851.4 Q1122.5 850.4 1120.6 848.8 L1111.5 841.6 Q1109.6 840.0 1109.6 837.5 Z" fill="#2a2a2d"/><path d="M1114.6 807.3 L1151.7 799.6 L1275.6 833.3 L1275.6 839.2 L1286.0 846.9 L1360.0 855.2 L1360.0 866.7 L1185.0 840.0 L1182.9 836.5 L1112.1 816.7 Z" fill="#222224"/><path d="M1185.0 840.0 L1185.0 846.9 L1189.2 851.0 L1337.1 924.0" fill="none" stroke="#55565a" stroke-width="1"/></g><circle cx="1211.6" cy="846.7" r="143.2" fill="none" stroke="#1943a3" stroke-width="4.8"/>
<text x="1275.5" y="137" font-size="28" fill="#1943a3" stroke="#1943a3" stroke-width="0.5" text-anchor="middle" textLength="243" lengthAdjust="spacingAndGlyphs" font-family="Liberation Sans, sans-serif" font-weight="bold">Safe and Secure</text>
<text x="1279.8" y="173" font-size="28" fill="#1943a3" stroke="#1943a3" stroke-width="0.5" text-anchor="middle" textLength="136.5" lengthAdjust="spacingAndGlyphs" font-family="Liberation Sans, sans-serif" font-weight="bold">Structure</text>
<text x="1214.6" y="613" font-size="28" fill="#1943a3" stroke="#1943a3" stroke-width="0.5" text-anchor="middle" textLength="202" lengthAdjust="spacingAndGlyphs" font-family="Liberation Sans, sans-serif" font-weight="bold">High Strength</text>
<text x="1218.6" y="645.8" font-size="28" fill="#1943a3" stroke="#1943a3" stroke-width="0.5" text-anchor="middle" textLength="236.2" lengthAdjust="spacingAndGlyphs" font-family="Liberation Sans, sans-serif" font-weight="bold">Steel Wire Shelf</text>
<text x="1218.7" y="1035.5" font-size="29" fill="#1943a3" stroke="#1943a3" stroke-width="0.5" text-anchor="middle" textLength="178" lengthAdjust="spacingAndGlyphs" font-family="Liberation Sans, sans-serif" font-weight="bold">Solid Frame</text>
<rect x="0" y="1070" width="716.5" height="370" fill="#1c48a3"/>
<rect x="725" y="1070" width="720" height="370" fill="#a1a1a1"/>
<g><path d="M288.2 1380.8 Q287.0 1378.0 289.4 1376.2 L302.6 1366.4 Q305.0 1364.6 308.0 1364.3 L329.7 1362.3 Q332.7 1362.0 335.0 1360.1 L369.7 1331.5 Q372.0 1329.6 374.9 1328.7 L384.6 1325.9 Q387.5 1325.0 389.8 1327.0 L397.4 1333.7 Q399.7 1335.7 399.4 1338.7 L398.3 1348.0 Q398.0 1351.0 395.4 1352.5 L374.6 1364.5 Q372.0 1366.0 369.4 1367.4 L335.3 1386.0 Q332.7 1387.4 330.1 1388.9 L307.6 1401.2 Q305.0 1402.7 302.2 1401.7 L298.8 1400.6 Q296.0 1399.6 294.8 1396.8 Z" fill="#9db0c6"/><g stroke="#e4edf6" stroke-width="3.2" stroke-linecap="round" opacity="0.85"><line x1="286.8" y1="1376.8" x2="304.2" y2="1403.2"/><line x1="294.9" y1="1372.4" x2="312.3" y2="1398.7"/><line x1="302.9" y1="1368.0" x2="320.3" y2="1394.3"/><line x1="311.0" y1="1363.6" x2="328.4" y2="1389.9"/><line x1="319.1" y1="1359.2" x2="336.5" y2="1385.5"/><line x1="327.1" y1="1354.8" x2="344.6" y2="1381.1"/><line x1="335.2" y1="1350.3" x2="352.6" y2="1376.6"/><line x1="343.3" y1="1345.9" x2="360.7" y2="1372.2"/><line x1="351.4" y1="1341.5" x2="368.8" y2="1367.8"/><line x1="359.4" y1="1337.1" x2="376.8" y2="1363.4"/><line x1="367.5" y1="1332.7" x2="384.9" y2="1359.0"/><line x1="375.6" y1="1328.2" x2="393.0" y2="1354.6"/></g><g stroke="#5f6f86" stroke-width="2.2" stroke-linecap="round" opacity="0.8"><line x1="290.5" y1="1374.8" x2="307.9" y2="1401.1"/><line x1="298.6" y1="1370.4" x2="316.0" y2="1396.7"/><line x1="306.6" y1="1366.0" x2="324.0" y2="1392.3"/><line x1="314.7" y1="1361.6" x2="332.1" y2="1387.9"/><line x1="322.8" y1="1357.2" x2="340.2" y2="1383.5"/><line x1="330.8" y1="1352.7" x2="348.2" y2="1379.0"/><line x1="338.9" y1="1348.3" x2="356.3" y2="1374.6"/><line x1="347.0" y1="1343.9" x2="364.4" y2="1370.2"/><line x1="355.0" y1="1339.5" x2="372.4" y2="1365.8"/><line x1="363.1" y1="1335.1" x2="380.5" y2="1361.4"/><line x1="371.2" y1="1330.6" x2="388.6" y2="1357.0"/><line x1="379.2" y1="1326.2" x2="396.7" y2="1352.5"/></g><path d="M587.1 1200.5 L716.5 1220.6 L716.5 1308.4 L592.1 1293.3 Z" fill="url(#beamV)"/><path d="M588.1 1243.1 L716.5 1260.7 L716.5 1267.2 L588.1 1249.7 Z" fill="#2a4fa0"/><path d="M592.1 1288.3 L716.5 1303.4 L716.5 1309.4 L592.1 1294.3 Z" fill="#8d8f92"/><g stroke="#3a3a3a" stroke-width="0.7"><line x1="594.6" y1="1275.6" x2="594.6" y2="1286.7"/><line x1="599.2" y1="1281.3" x2="599.2" y2="1287.3"/><line x1="603.9" y1="1281.9" x2="603.9" y2="1288.0"/><line x1="608.6" y1="1282.6" x2="608.6" y2="1288.6"/><line x1="613.2" y1="1283.2" x2="613.2" y2="1289.2"/><line x1="617.9" y1="1278.8" x2="617.9" y2="1289.9"/><line x1="622.6" y1="1284.5" x2="622.6" y2="1290.5"/><line x1="627.2" y1="1285.1" x2="627.2" y2="1291.2"/><line x1="631.9" y1="1285.8" x2="631.9" y2="1291.8"/><line x1="636.6" y1="1286.4" x2="636.6" y2="1292.4"/><line x1="641.2" y1="1282.0" x2="641.2" y2="1293.1"/><line x1="645.9" y1="1287.7" x2="645.9" y2="1293.7"/><line x1="650.6" y1="1288.3" x2="650.6" y2="1294.4"/><line x1="655.2" y1="1289.0" x2="655.2" y2="1295.0"/><line x1="659.9" y1="1289.6" x2="659.9" y2="1295.6"/><line x1="664.6" y1="1285.2" x2="664.6" y2="1296.3"/><line x1="669.2" y1="1290.9" x2="669.2" y2="1296.9"/><line x1="673.9" y1="1291.5" x2="673.9" y2="1297.6"/><line x1="678.6" y1="1292.2" x2="678.6" y2="1298.2"/><line x1="683.2" y1="1292.8" x2="683.2" y2="1298.8"/><line x1="687.9" y1="1288.4" x2="687.9" y2="1299.5"/><line x1="692.6" y1="1294.1" x2="692.6" y2="1300.1"/><line x1="697.2" y1="1294.7" x2="697.2" y2="1300.7"/><line x1="701.9" y1="1295.4" x2="701.9" y2="1301.4"/><line x1="706.6" y1="1296.0" x2="706.6" y2="1302.0"/><line x1="711.2" y1="1291.6" x2="711.2" y2="1302.7"/><line x1="715.9" y1="1297.3" x2="715.9" y2="1303.3"/></g><g stroke="#3a3a3a" stroke-width="0.9"><line x1="642.2" y1="1219.6" x2="642.2" y2="1243.1"/><line x1="705.0" y1="1229.6" x2="705.0" y2="1250.7"/></g><text x="630.2" y="1236.6" font-size="10.5" fill="#333" text-anchor="start" font-family="Liberation Sans, sans-serif" font-weight="normal">3</text><text x="590.1" y="1267.2" font-size="10.5" fill="#333" text-anchor="start" font-family="Liberation Sans, sans-serif" font-weight="normal">70</text><text x="638.2" y="1274.2" font-size="10.5" fill="#333" text-anchor="start" font-family="Liberation Sans, sans-serif" font-weight="normal">80</text><text x="688.4" y="1282.3" font-size="10.5" fill="#333" text-anchor="start" font-family="Liberation Sans, sans-serif" font-weight="normal">90</text><path d="M300.5 1070.6 L305.0 1075.6 L309.5 1070.6 L313.4 1070.6 L313.4 1123.3 L312.1 1127.3 L306.6 1098.3 Z" fill="#e9ebed"/><path d="M255.9 1130.5 L283.3 1132.8 L283.3 1122.8 L291.8 1121.8 L293.4 1070.6 L295.7 1070.6 L299.2 1098.3 L303.4 1127.3 L306.6 1162.4 L255.9 1162.4 Z" fill="url(#steelH)"/><path d="M291.8 1121.8 L293.4 1070.6 L295.7 1070.6 L299.2 1098.3 L303.4 1127.3 L305.0 1139.2 L296.5 1139.2 Z" fill="#aaa59f"/><path d="M295.7 1070.6 L302.1 1070.6 L306.6 1098.3 L312.1 1127.3 L315.5 1159.5 L315.5 1162.9 L306.6 1162.9 L303.4 1127.3 L298.9 1098.3 Z" fill="#2f2f2e"/><path d="M255.9 1161.6 L315.5 1161.6 L315.5 1231.5 L305.5 1228.9 L255.4 1216.0 Z" fill="#d3d5d7"/><path d="M306.6 1193.3 L315.5 1193.3 L315.5 1197.2 L306.6 1197.2 Z" fill="#2a4fa0"/><g stroke="#444" stroke-width="0.8"><line x1="308.4" y1="1169.5" x2="308.4" y2="1184.0"/><line x1="308.4" y1="1202.5" x2="308.4" y2="1218.4"/><line x1="312.4" y1="1213.1" x2="312.4" y2="1219.1"/></g><text x="299.2" y="1180.1" font-size="9" fill="#444" text-anchor="start" font-family="Liberation Sans, sans-serif" font-weight="normal">0</text><text x="299.2" y="1212.5" font-size="9" fill="#444" text-anchor="start" font-family="Liberation Sans, sans-serif" font-weight="normal">0</text><path d="M255.4 1216.0 L305.5 1228.9 L304.2 1361.7 L285.7 1360.3 L285.7 1374.9 L284.3 1373.8 L255.4 1245.5 Z" fill="url(#steelH)"/><path d="M304.2 1230.5 L313.2 1231.5 L313.2 1280.9 L304.2 1280.9 Z" fill="#454547"/><path d="M304.2 1280.9 L313.2 1280.9 L313.2 1361.7 L304.2 1361.7 Z" fill="#8f857b"/><path d="M326.9 1271.1 L385.7 1284.3 L347.2 1393.9 L333.5 1408.9 L331.9 1387.3 L325.6 1371.4 Z" fill="url(#steelH2)"/><path d="M367.8 1280.4 L385.7 1284.3 L347.2 1393.9 L333.5 1408.9 L336.1 1389.9 Z" fill="#8a8784"/><path d="M458.3 1137.9 L467.3 1137.9 L467.3 1151.8 L458.3 1151.8 Z" fill="url(#knobH)"/><path d="M449.1 1116.1 Q449.1 1114.1 451.1 1114.1 L475.3 1114.1 Q477.3 1114.1 477.3 1116.1 L477.3 1137.2 Q477.3 1139.2 475.3 1139.2 L451.1 1139.2 Q449.1 1139.2 449.1 1137.2 Z" fill="url(#knobH)"/><g stroke="#8a8a8a" stroke-width="0.9"><line x1="451.2" y1="1116.0" x2="451.2" y2="1138.4"/><line x1="454.2" y1="1116.0" x2="454.2" y2="1138.4"/><line x1="457.3" y1="1116.0" x2="457.3" y2="1138.4"/><line x1="460.3" y1="1116.0" x2="460.3" y2="1138.4"/><line x1="463.3" y1="1116.0" x2="463.3" y2="1138.4"/><line x1="466.4" y1="1116.0" x2="466.4" y2="1138.4"/><line x1="469.4" y1="1116.0" x2="469.4" y2="1138.4"/><line x1="472.4" y1="1116.0" x2="472.4" y2="1138.4"/><line x1="475.5" y1="1116.0" x2="475.5" y2="1138.4"/></g><ellipse cx="463.1" cy="1114.1" rx="14.2" ry="3" fill="#d9d9d9"/><path d="M466.0 1162.4 Q465.4 1152.4 475.1 1149.6 L482.2 1147.5 Q491.8 1144.7 501.8 1145.3 L546.8 1148.1 Q556.8 1148.7 565.8 1152.9 L572.5 1156.1 Q581.6 1160.3 586.4 1169.0 L589.4 1174.5 Q594.2 1183.3 594.3 1193.3 L594.7 1234.7 Q594.8 1244.7 594.2 1254.7 L591.7 1298.4 Q591.1 1308.4 589.0 1318.1 L587.6 1324.7 Q585.8 1333.4 580.6 1340.7 L580.6 1340.8 Q575.5 1347.9 568.1 1352.7 L567.7 1352.9 Q560.7 1357.4 552.4 1358.0 L551.8 1358.0 Q544.1 1358.5 536.8 1355.9 L536.8 1355.9 Q529.6 1353.2 523.2 1348.8 L521.2 1347.3 Q513.0 1341.6 505.4 1335.0 L503.9 1333.7 Q496.3 1327.1 490.2 1319.2 L487.9 1316.3 Q481.8 1308.4 477.4 1299.4 L477.0 1298.6 Q472.6 1289.6 472.1 1279.6 Z" fill="url(#gripV)"/><path d="M559.1 1161.1 Q559.1 1151.1 568.4 1154.9 L572.3 1156.5 Q581.6 1160.3 586.4 1169.0 L589.4 1174.5 Q594.2 1183.3 594.3 1193.3 L594.7 1234.7 Q594.8 1244.7 594.2 1254.7 L591.7 1298.4 Q591.1 1308.4 589.0 1318.1 L587.6 1324.7 Q585.8 1333.4 580.6 1340.7 L580.6 1340.8 Q575.5 1347.9 568.1 1352.7 L567.7 1352.9 Q560.7 1357.4 552.4 1358.0 L552.4 1358.0 Q544.1 1358.5 546.0 1350.4 L556.1 1307.3 Q558.3 1297.5 558.4 1287.5 Z" fill="url(#gripSide)"/><path d="M469.6 1166.6 Q469.4 1161.6 474.4 1161.4 L543.6 1158.4 Q548.6 1158.2 551.9 1161.9 L556.6 1167.1 Q559.9 1170.8 559.9 1175.8 L558.4 1289.9 Q558.3 1294.9 554.2 1297.7 L552.7 1298.7 Q548.6 1301.5 543.6 1301.2 L488.9 1297.8 Q483.9 1297.5 480.3 1294.1 L477.0 1290.9 Q473.4 1287.5 473.2 1282.5 Z" fill="#ced0d2" stroke="#a6a8aa" stroke-width="0.8"/><path d="M481.8 1245.3 L548.6 1256.9 L548.6 1261.6 L481.8 1250.0 Z" fill="#bfc1c3" stroke="#a4a6a8" stroke-width="0.6"/><path d="M481.8 1257.4 L548.6 1269.0 L548.6 1273.8 L481.8 1262.2 Z" fill="#bfc1c3" stroke="#a4a6a8" stroke-width="0.6"/><path d="M481.8 1269.6 L548.6 1281.2 L548.6 1285.9 L481.8 1274.3 Z" fill="#bfc1c3" stroke="#a4a6a8" stroke-width="0.6"/><path d="M481.8 1281.7 L548.6 1293.3 L548.6 1298.1 L481.8 1286.4 Z" fill="#bfc1c3" stroke="#a4a6a8" stroke-width="0.6"/><ellipse cx="486.6" cy="1305.4" rx="9" ry="5" fill="#b2b4b6" transform="rotate(35 486.6 1305.4)"/><ellipse cx="501.9" cy="1317.1" rx="9" ry="5" fill="#b2b4b6" transform="rotate(35 501.9 1317.1)"/><ellipse cx="517.2" cy="1328.7" rx="9" ry="5" fill="#b2b4b6" transform="rotate(35 517.2 1328.7)"/><ellipse cx="532.5" cy="1340.3" rx="9" ry="5" fill="#b2b4b6" transform="rotate(35 532.5 1340.3)"/><ellipse cx="547.8" cy="1351.9" rx="9" ry="5" fill="#b2b4b6" transform="rotate(35 547.8 1351.9)"/><ellipse cx="480.0" cy="1151.1" rx="4.5" ry="2.6" fill="#e3e5e7"/><ellipse cx="491.0" cy="1150.5" rx="4.5" ry="2.6" fill="#e3e5e7"/><ellipse cx="502.1" cy="1150.0" rx="4.5" ry="2.6" fill="#e3e5e7"/><ellipse cx="513.2" cy="1149.5" rx="4.5" ry="2.6" fill="#e3e5e7"/><ellipse cx="524.3" cy="1148.9" rx="4.5" ry="2.6" fill="#e3e5e7"/><ellipse cx="535.4" cy="1148.4" rx="4.5" ry="2.6" fill="#e3e5e7"/><ellipse cx="546.5" cy="1147.9" rx="4.5" ry="2.6" fill="#e3e5e7"/><path d="M316.3 1154.8 Q316.3 1151.1 317.5 1147.5 L317.5 1147.5 Q318.7 1143.9 321.1 1141.0 L324.5 1137.0 Q327.7 1133.1 332.6 1133.7 L461.8 1150.4 Q466.8 1151.1 467.0 1156.0 L473.1 1288.6 Q473.4 1293.6 468.4 1293.1 L388.6 1284.8 Q383.6 1284.3 378.8 1283.0 L321.1 1266.7 Q316.3 1265.3 316.3 1260.3 Z" fill="url(#bodyV)"/><path d="M319.8 1145.0 L327.7 1133.6 L466.8 1151.1 L467.0 1159.2 L323.5 1146.0 Z" fill="#dddfe1"/><path d="M320.9 1177.4 Q321.1 1172.4 326.0 1173.1 L459.2 1191.3 Q464.1 1192.0 464.4 1197.0 L468.3 1264.8 Q468.6 1269.8 463.7 1268.9 L323.4 1243.0 Q318.4 1242.1 318.6 1237.1 Z" fill="#d9dadb" stroke="#8f9193" stroke-width="1.2"/><path d="M328.4 1185.2 Q328.5 1182.2 331.5 1182.5 L455.3 1193.8 Q458.3 1194.1 458.1 1197.1 L454.5 1255.5 Q454.4 1258.5 451.4 1257.9 L329.8 1236.3 Q326.9 1235.8 327.0 1232.8 Z" fill="url(#lcd)" stroke="#b4b7b5" stroke-width="0.8"/><g transform="translate(352.6 1231.5) skewY(9)"><text x="0.0" y="0.0" font-size="53" fill="#3a403c" text-anchor="start" font-family="Liberation Sans, sans-serif" font-weight="normal" textLength="75.0" lengthAdjust="spacingAndGlyphs" letter-spacing="-1">7.65</text></g><g transform="translate(430.8 1245.2) skewY(9)"><text x="0.0" y="0.0" font-size="14" fill="#3a403c" text-anchor="start" font-family="Liberation Sans, sans-serif" font-weight="normal" textLength="19.4" lengthAdjust="spacingAndGlyphs">mm</text></g><rect x="358.3" y="1159.5" width="20" height="11" rx="5.5" fill="#e9e9e9" stroke="#4b4b4b" stroke-width="1.3" transform="rotate(6 368.3 1165.0)"/><g transform="translate(381.5 1174.5) rotate(8)"><text x="0.0" y="0.0" font-size="9.5" fill="#555" text-anchor="start" font-family="Liberation Sans, sans-serif" font-weight="normal" textLength="42.0" lengthAdjust="spacingAndGlyphs">mm/inch</text></g><rect x="354.6" y="1260.4" width="20" height="11" rx="5.5" fill="#e9e9e9" stroke="#4b4b4b" stroke-width="1.3" transform="rotate(6 364.6 1265.9)"/><g transform="translate(333.5 1265.3) rotate(5)"><text x="0.0" y="0.0" font-size="9.5" fill="#555" text-anchor="start" font-family="Liberation Sans, sans-serif" font-weight="normal">OFF</text></g><g transform="translate(378.4 1273.2) rotate(5)"><text x="0.0" y="0.0" font-size="9.5" fill="#555" text-anchor="start" font-family="Liberation Sans, sans-serif" font-weight="normal">ON</text></g><rect x="421.7" y="1274.1" width="20" height="11" rx="5.5" fill="#e9e9e9" stroke="#4b4b4b" stroke-width="1.3" transform="rotate(6 431.7 1279.6)"/><g transform="translate(445.7 1287.5) rotate(5)"><text x="0.0" y="0.0" font-size="9.5" fill="#555" text-anchor="start" font-family="Liberation Sans, sans-serif" font-weight="normal">ZERO</text></g><ellipse cx="630.7" cy="1320.9" rx="28" ry="28" fill="#8d8d8d"/><ellipse cx="617.7" cy="1322.9" rx="27.5" ry="28.5" fill="url(#wheel)"/><path d="M239.2 1396.1 Q239.0 1393.1 240.9 1390.8 L251.9 1377.7 Q253.8 1375.4 256.7 1374.8 L273.0 1371.5 Q276.0 1370.9 278.2 1372.9 L293.8 1387.3 Q296.0 1389.4 296.2 1392.4 L298.2 1420.7 Q298.4 1423.7 296.5 1426.1 L286.5 1439.0 Q284.7 1441.4 281.7 1441.4 L248.1 1441.4 Q245.1 1441.4 244.1 1438.5 L242.1 1432.3 Q241.1 1429.5 240.9 1426.5 Z" fill="url(#boltH)"/><path d="M276.0 1370.9 L296.0 1389.4 L298.4 1423.7 L284.7 1441.4 L279.4 1441.4 L282.0 1403.1 Z" fill="#8fa0b4"/><ellipse cx="261.7" cy="1408.9" rx="21" ry="24" fill="#c3d1df" transform="rotate(-15 261.7 1408.9)"/></g>
<text x="19.5" y="1122.7" font-size="38" fill="#fff" text-anchor="start" font-family="Liberation Sans, sans-serif" font-weight="bold" textLength="212.0" lengthAdjust="spacingAndGlyphs" stroke="#fff" stroke-width="1.6" stroke-linejoin="round">WORKPRO</text>
<text x="33.0" y="1245.6" font-size="45" fill="#fff" text-anchor="start" font-family="Liberation Sans, sans-serif" font-weight="bold" textLength="160.0" lengthAdjust="spacingAndGlyphs" stroke="#fff" stroke-width="1.2" stroke-linejoin="round">Thicker</text>
<text x="33.0" y="1296.8" font-size="45" fill="#fff" text-anchor="start" font-family="Liberation Sans, sans-serif" font-weight="bold" textLength="160.0" lengthAdjust="spacingAndGlyphs" stroke="#fff" stroke-width="1.2" stroke-linejoin="round">Screws</text>
<g><path d="M1039.4 1384.8 Q1038.2 1382.0 1040.6 1380.2 L1053.5 1370.5 Q1055.9 1368.7 1058.8 1368.0 L1070.7 1365.0 Q1073.6 1364.3 1075.1 1366.9 L1076.5 1369.4 Q1078.0 1372.0 1077.7 1375.0 L1077.2 1380.1 Q1076.9 1383.1 1074.4 1384.8 L1058.4 1395.8 Q1055.9 1397.5 1053.2 1398.9 L1049.7 1400.6 Q1047.0 1401.9 1045.8 1399.2 Z" fill="#b4b6ba"/><path d="M1044.4 1382.9 Q1042.6 1382.0 1044.2 1380.9 L1055.3 1373.2 Q1057.0 1372.0 1058.9 1371.5 L1070.6 1368.2 Q1072.5 1367.6 1073.0 1369.6 L1073.1 1370.1 Q1073.6 1372.0 1071.9 1373.1 L1053.1 1385.4 Q1051.4 1386.4 1049.7 1385.6 Z" fill="#eceef0"/><path d="M1104.2 1350.8 Q1104.0 1348.8 1105.9 1347.9 L1115.0 1343.6 Q1116.8 1342.7 1117.1 1344.7 L1117.5 1346.8 Q1117.9 1348.8 1117.2 1350.7 L1115.3 1355.8 Q1114.6 1357.7 1112.9 1358.8 L1106.8 1363.1 Q1105.2 1364.3 1105.0 1362.3 Z" fill="#b9bbbf"/><g stroke="#5f6062" stroke-width="1.6"><line x1="1105.7" y1="1348.2" x2="1107.9" y2="1362.1"/><line x1="1108.8" y1="1346.9" x2="1111.0" y2="1359.6"/><line x1="1111.9" y1="1345.6" x2="1114.1" y2="1357.2"/><line x1="1115.0" y1="1344.3" x2="1117.2" y2="1354.8"/></g><g stroke="#6e6e70" stroke-width="1.8"><line x1="1058.1" y1="1369.8" x2="1062.5" y2="1390.9"/><line x1="1063.1" y1="1368.3" x2="1067.5" y2="1387.6"/><line x1="1068.1" y1="1366.7" x2="1072.5" y2="1384.2"/><line x1="1073.0" y1="1365.2" x2="1077.5" y2="1380.9"/></g><path d="M1319.6 1187.9 L1445.0 1205.5 L1445.0 1286.8 L1322.1 1270.7 Z" fill="url(#beamV)"/><path d="M1319.6 1227.1 L1445.0 1246.7 L1445.0 1252.2 L1319.6 1232.6 Z" fill="#2d55a8"/><path d="M1322.1 1266.7 L1445.0 1281.8 L1445.0 1286.8 L1322.1 1271.7 Z" fill="#9a9c9e"/><g stroke="#555" stroke-width="0.7"><line x1="1326.1" y1="1253.7" x2="1326.1" y2="1263.7"/><line x1="1330.6" y1="1258.9" x2="1330.6" y2="1264.4"/><line x1="1335.2" y1="1259.6" x2="1335.2" y2="1265.1"/><line x1="1339.7" y1="1260.3" x2="1339.7" y2="1265.8"/><line x1="1344.2" y1="1261.0" x2="1344.2" y2="1266.5"/><line x1="1348.7" y1="1257.2" x2="1348.7" y2="1267.2"/><line x1="1353.2" y1="1262.4" x2="1353.2" y2="1268.0"/><line x1="1357.7" y1="1263.1" x2="1357.7" y2="1268.7"/><line x1="1362.2" y1="1263.8" x2="1362.2" y2="1269.4"/><line x1="1366.8" y1="1264.5" x2="1366.8" y2="1270.1"/><line x1="1371.3" y1="1260.7" x2="1371.3" y2="1270.8"/><line x1="1375.8" y1="1266.0" x2="1375.8" y2="1271.5"/><line x1="1380.3" y1="1266.7" x2="1380.3" y2="1272.2"/><line x1="1384.8" y1="1267.4" x2="1384.8" y2="1272.9"/><line x1="1389.3" y1="1268.1" x2="1389.3" y2="1273.6"/><line x1="1393.9" y1="1264.3" x2="1393.9" y2="1274.3"/><line x1="1398.4" y1="1269.5" x2="1398.4" y2="1275.0"/><line x1="1402.9" y1="1270.2" x2="1402.9" y2="1275.7"/><line x1="1407.4" y1="1270.9" x2="1407.4" y2="1276.4"/><line x1="1411.9" y1="1271.6" x2="1411.9" y2="1277.1"/><line x1="1416.4" y1="1267.8" x2="1416.4" y2="1277.8"/><line x1="1421.0" y1="1273.0" x2="1421.0" y2="1278.5"/><line x1="1425.5" y1="1273.7" x2="1425.5" y2="1279.2"/><line x1="1430.0" y1="1274.4" x2="1430.0" y2="1279.9"/><line x1="1434.5" y1="1275.1" x2="1434.5" y2="1280.6"/><line x1="1439.0" y1="1271.3" x2="1439.0" y2="1281.3"/><line x1="1443.5" y1="1276.5" x2="1443.5" y2="1282.0"/></g><g stroke="#555" stroke-width="0.9"><line x1="1376.3" y1="1206.5" x2="1376.3" y2="1229.6"/><line x1="1433.5" y1="1214.5" x2="1433.5" y2="1236.6"/></g><text x="1364.3" y="1223.6" font-size="10" fill="#555" text-anchor="start" font-family="Liberation Sans, sans-serif" font-weight="normal">3</text><text x="1327.1" y="1253.2" font-size="10" fill="#555" text-anchor="start" font-family="Liberation Sans, sans-serif" font-weight="normal">70</text><text x="1372.3" y="1260.2" font-size="10" fill="#555" text-anchor="start" font-family="Liberation Sans, sans-serif" font-weight="normal">80</text><text x="1418.9" y="1267.7" font-size="10" fill="#555" text-anchor="start" font-family="Liberation Sans, sans-serif" font-weight="normal">90</text><path d="M1053.1 1070.6 L1063.4 1070.6 L1064.2 1123.9 L1047.3 1116.7 Z" fill="#e9eaeb"/><path d="M1060.7 1070.6 L1071.0 1070.6 L1073.7 1126.0 L1072.1 1137.1 L1064.2 1151.1 L1064.2 1112.8 Z" fill="#8d8b88"/><path d="M1016.1 1123.3 L1064.2 1123.3 L1064.2 1151.8 L1016.1 1151.8 Z" fill="url(#steelR)"/><path d="M1016.1 1151.1 L1064.2 1151.1 L1063.1 1211.0 L1016.1 1211.0 Z" fill="#d6d6d6"/><text x="1056.8" y="1170.8" font-size="8.5" fill="#444" text-anchor="start" font-family="Liberation Sans, sans-serif" font-weight="normal">0</text><text x="1054.7" y="1202.5" font-size="8.5" fill="#444" text-anchor="start" font-family="Liberation Sans, sans-serif" font-weight="normal">0</text><path d="M1016.1 1210.4 L1064.2 1210.4 L1064.2 1271.1 L1058.4 1351.6 L1035.1 1353.5 L1035.1 1375.9 L1032.5 1375.4 Z" fill="url(#steelR)"/><path d="M1055.7 1271.1 L1064.2 1271.1 L1058.4 1351.6 L1054.1 1351.6 Z" fill="#7e7b78"/><path d="M1035.1 1353.5 L1058.4 1351.6 L1057.6 1363.5 L1037.8 1366.1 Z" fill="#6f6d6a"/><path d="M1068.9 1263.2 L1132.0 1271.1 L1089.5 1384.1 L1075.3 1403.6 L1073.1 1385.2 L1066.8 1368.8 Z" fill="url(#steelR2)"/><path d="M1117.0 1269.0 L1132.0 1271.1 L1089.5 1384.1 L1075.3 1403.6 L1077.9 1383.3 Z" fill="#908d8a"/><path d="M1201.4 1129.9 L1210.9 1129.9 L1210.9 1141.3 L1201.4 1141.3 Z" fill="url(#knobH)"/><path d="M1194.8 1106.9 Q1194.8 1104.9 1196.8 1104.9 L1221.1 1104.9 Q1223.1 1104.9 1223.1 1106.9 L1223.1 1128.7 Q1223.1 1130.7 1221.1 1130.7 L1196.8 1130.7 Q1194.8 1130.7 1194.8 1128.7 Z" fill="url(#knobH)"/><g stroke="#8a8a8a" stroke-width="0.9"><line x1="1196.9" y1="1106.5" x2="1196.9" y2="1129.7"/><line x1="1200.0" y1="1106.5" x2="1200.0" y2="1129.7"/><line x1="1203.0" y1="1106.5" x2="1203.0" y2="1129.7"/><line x1="1206.0" y1="1106.5" x2="1206.0" y2="1129.7"/><line x1="1209.1" y1="1106.5" x2="1209.1" y2="1129.7"/><line x1="1212.1" y1="1106.5" x2="1212.1" y2="1129.7"/><line x1="1215.1" y1="1106.5" x2="1215.1" y2="1129.7"/><line x1="1218.2" y1="1106.5" x2="1218.2" y2="1129.7"/><line x1="1221.2" y1="1106.5" x2="1221.2" y2="1129.7"/></g><ellipse cx="1208.8" cy="1104.9" rx="14" ry="3" fill="#dedede"/><path d="M1206.2 1145.9 Q1206.2 1142.3 1209.1 1140.2 L1209.1 1140.2 Q1212.0 1138.1 1215.6 1138.0 L1293.7 1136.2 Q1301.7 1136.0 1308.3 1140.5 L1311.4 1142.6 Q1318.1 1147.1 1320.7 1154.7 L1321.8 1158.0 Q1324.4 1165.6 1324.5 1173.6 L1325.9 1284.3 Q1326.0 1292.3 1324.0 1300.0 L1319.8 1316.9 Q1318.1 1323.9 1313.2 1329.2 L1313.2 1329.2 Q1308.3 1334.5 1301.6 1337.1 L1298.6 1338.4 Q1291.1 1341.3 1283.2 1341.5 L1281.7 1341.5 Q1273.7 1341.6 1266.4 1338.5 L1264.2 1337.6 Q1256.8 1334.5 1250.1 1330.1 L1249.0 1329.4 Q1242.3 1325.0 1237.2 1318.8 L1226.8 1306.1 Q1221.7 1299.9 1218.5 1292.6 L1212.1 1278.4 Q1208.8 1271.1 1208.6 1263.1 Z" fill="url(#gripV2)"/><path d="M1284.8 1149.9 Q1284.6 1143.9 1290.0 1141.4 L1296.3 1138.5 Q1301.7 1136.0 1306.7 1139.4 L1313.1 1143.7 Q1318.1 1147.1 1320.0 1152.8 L1322.5 1159.9 Q1324.4 1165.6 1324.5 1171.6 L1325.9 1286.3 Q1326.0 1292.3 1324.5 1298.1 L1319.5 1318.1 Q1318.1 1323.9 1314.9 1329.0 L1312.8 1332.5 Q1309.6 1337.6 1303.6 1338.1 L1294.5 1338.8 Q1288.5 1339.2 1288.6 1333.2 L1289.0 1277.1 Q1289.0 1271.1 1288.8 1265.1 Z" fill="url(#gripSide2)"/><path d="M1209.6 1153.4 Q1209.3 1148.4 1214.3 1148.2 L1277.7 1145.2 Q1282.7 1145.0 1285.1 1149.4 L1286.1 1151.2 Q1288.5 1155.5 1288.5 1160.5 L1289.0 1266.1 Q1289.0 1271.1 1286.0 1275.1 L1283.6 1278.2 Q1280.6 1282.2 1275.7 1281.4 L1220.1 1272.5 Q1215.1 1271.7 1214.9 1266.7 Z" fill="#e2e3e5" stroke="#b4b5b7" stroke-width="0.9"/><path d="M1218.6 1226.8 L1279.3 1235.2 L1279.3 1240.0 L1218.6 1231.5 Z" fill="#d2d3d5" stroke="#9fa0a2" stroke-width="0.8"/><path d="M1218.6 1238.9 L1279.3 1247.4 L1279.3 1252.1 L1218.6 1243.7 Z" fill="#d2d3d5" stroke="#9fa0a2" stroke-width="0.8"/><path d="M1218.6 1251.1 L1279.3 1259.5 L1279.3 1264.3 L1218.6 1255.8 Z" fill="#d2d3d5" stroke="#9fa0a2" stroke-width="0.8"/><ellipse cx="1238.4" cy="1306.8" rx="9" ry="5" fill="#e9eaec" transform="rotate(30 1238.4 1306.8)"/><ellipse cx="1252.9" cy="1314.7" rx="9" ry="5" fill="#e9eaec" transform="rotate(30 1252.9 1314.7)"/><ellipse cx="1267.4" cy="1322.6" rx="9" ry="5" fill="#e9eaec" transform="rotate(30 1267.4 1322.6)"/><ellipse cx="1281.9" cy="1330.5" rx="9" ry="5" fill="#e9eaec" transform="rotate(30 1281.9 1330.5)"/><ellipse cx="1222.5" cy="1139.2" rx="4.5" ry="2.6" fill="#e6e8ea"/><ellipse cx="1233.6" cy="1138.9" rx="4.5" ry="2.6" fill="#e6e8ea"/><ellipse cx="1244.7" cy="1138.6" rx="4.5" ry="2.6" fill="#e6e8ea"/><ellipse cx="1255.8" cy="1138.4" rx="4.5" ry="2.6" fill="#e6e8ea"/><ellipse cx="1266.9" cy="1138.1" rx="4.5" ry="2.6" fill="#e6e8ea"/><ellipse cx="1278.0" cy="1137.9" rx="4.5" ry="2.6" fill="#e6e8ea"/><path d="M1064.1 1152.1 Q1064.2 1147.1 1066.4 1142.6 L1068.3 1138.6 Q1070.0 1135.2 1073.0 1133.0 L1073.0 1133.0 Q1076.1 1130.7 1079.8 1131.0 L1198.9 1139.0 Q1201.9 1139.2 1204.6 1140.8 L1204.6 1140.8 Q1207.2 1142.3 1207.3 1145.4 L1208.7 1266.7 Q1208.8 1271.7 1203.8 1271.1 L1068.1 1255.9 Q1063.1 1255.3 1063.2 1250.3 Z" fill="url(#bodyV2)"/><path d="M1068.9 1139.2 L1076.1 1131.3 L1201.9 1139.7 L1206.7 1142.9 L1206.7 1152.9 L1070.0 1143.9 Z" fill="#97999c"/><path d="M1070.5 1164.3 Q1070.8 1160.3 1074.7 1160.7 L1199.6 1175.1 Q1203.5 1175.6 1203.6 1179.6 L1204.5 1250.8 Q1204.6 1254.8 1200.6 1254.1 L1070.2 1232.7 Q1066.3 1232.1 1066.5 1228.1 Z" fill="#dbdcdc" stroke="#8f9193" stroke-width="1.2"/><path d="M1079.8 1173.3 Q1080.0 1170.3 1083.0 1170.6 L1193.2 1182.4 Q1196.1 1182.7 1196.1 1185.7 L1194.9 1239.1 Q1194.8 1242.1 1191.9 1241.6 L1079.0 1224.1 Q1076.1 1223.6 1076.3 1220.6 Z" fill="url(#lcd)" stroke="#b4b7b5" stroke-width="0.8"/><g transform="translate(1097 1218) skewY(8.8)"><text x="0.0" y="0.0" font-size="50" fill="#3a403c" text-anchor="start" font-family="Liberation Sans, sans-serif" font-weight="normal" textLength="77.5" lengthAdjust="spacingAndGlyphs" letter-spacing="-1">3.63</text></g><g transform="translate(1173.9 1231) skewY(8.8)"><text x="0.0" y="0.0" font-size="13.5" fill="#3a403c" text-anchor="start" font-family="Liberation Sans, sans-serif" font-weight="normal" textLength="19.3" lengthAdjust="spacingAndGlyphs">mm</text></g><rect x="1106.2" y="1146.9" width="20" height="11" rx="5.5" fill="#e9e9e9" stroke="#4b4b4b" stroke-width="1.3" transform="rotate(7 1116.2 1152.4)"/><g transform="translate(1128.0 1159.8) rotate(6)"><text x="0.0" y="0.0" font-size="9" fill="#555" text-anchor="start" font-family="Liberation Sans, sans-serif" font-weight="normal" letter-spacing="0.8">mm/inch</text></g><rect x="1098.5" y="1245.6" width="20" height="11" rx="5.5" fill="#e9e9e9" stroke="#4b4b4b" stroke-width="1.3" transform="rotate(7 1108.5 1251.1)"/><g transform="translate(1080.0 1250.6) rotate(6)"><text x="0.0" y="0.0" font-size="9" fill="#555" text-anchor="start" font-family="Liberation Sans, sans-serif" font-weight="normal">OFF</text></g><g transform="translate(1121.7 1258.5) rotate(6)"><text x="0.0" y="0.0" font-size="9" fill="#555" text-anchor="start" font-family="Liberation Sans, sans-serif" font-weight="normal">ON</text></g><rect x="1161.9" y="1257.2" width="20" height="11" rx="5.5" fill="#e9e9e9" stroke="#4b4b4b" stroke-width="1.3" transform="rotate(7 1171.9 1262.7)"/><g transform="translate(1184.3 1270.6) rotate(6)"><text x="0.0" y="0.0" font-size="9" fill="#555" text-anchor="start" font-family="Liberation Sans, sans-serif" font-weight="normal">ZERO</text></g><ellipse cx="1356.2" cy="1297.8" rx="26" ry="24" fill="#9f9f9f" transform="rotate(-20 1347.2 1295.8)"/><ellipse cx="1347.2" cy="1295.8" rx="27" ry="24" fill="url(#wheel)" transform="rotate(-20 1347.2 1295.8)"/><path d="M1452.6 1286.8 C1402.4 1295.8 1342.2 1318.4 1314.6 1343.5 C1297.0 1361.1 1314.6 1381.1 1357.2 1385.1 L1452.6 1387.1 Z" fill="url(#skin)"/><ellipse cx="1329.6" cy="1348.5" rx="20" ry="14" fill="#f6d6c2" opacity="0.8" transform="rotate(-38 1329.6 1348.5)"/><ellipse cx="1026" cy="1401.4" rx="23.8" ry="27.7" fill="#c9cacc" stroke="#e3e4e6" stroke-width="2" transform="rotate(-25 1026 1401.4)"/><ellipse cx="1025.5" cy="1402.4" rx="18.5" ry="22" fill="#a3a4a6" transform="rotate(-25 1026 1401.4)"/><ellipse cx="1025" cy="1403.4" rx="10" ry="12.5" fill="#7f8082" transform="rotate(-25 1026 1401.4)"/><g stroke="#e6e7e9" stroke-width="3.4" stroke-linecap="round"><line x1="1014.0" y1="1395.4" x2="1036.0" y2="1411.4"/><line x1="1033.0" y1="1387.4" x2="1018.0" y2="1416.4"/></g><g stroke="#5e5f61" stroke-width="1.4" stroke-linecap="round"><line x1="1016.0" y1="1399.4" x2="1034.0" y2="1412.4"/><line x1="1035.0" y1="1390.4" x2="1021.0" y2="1416.4"/></g></g>
<text x="746.5" y="1122.7" font-size="39" fill="#fff" text-anchor="start" font-family="Liberation Sans, sans-serif" font-weight="bold" textLength="265.5" lengthAdjust="spacingAndGlyphs" stroke="#fff" stroke-width="1.0" stroke-linejoin="round">OTHER Brand</text>
<text x="762.0" y="1254.7" font-size="43" fill="#fff" text-anchor="start" font-family="Liberation Sans, sans-serif" font-weight="bold" textLength="150.5" lengthAdjust="spacingAndGlyphs" stroke="#fff" stroke-width="1.1" stroke-linejoin="round">Thinner</text>
<text x="762.0" y="1299.8" font-size="43" fill="#fff" text-anchor="start" font-family="Liberation Sans, sans-serif" font-weight="bold" textLength="146.5" lengthAdjust="spacingAndGlyphs" stroke="#fff" stroke-width="1.1" stroke-linejoin="round">Screws</text>
</svg></body></html>
